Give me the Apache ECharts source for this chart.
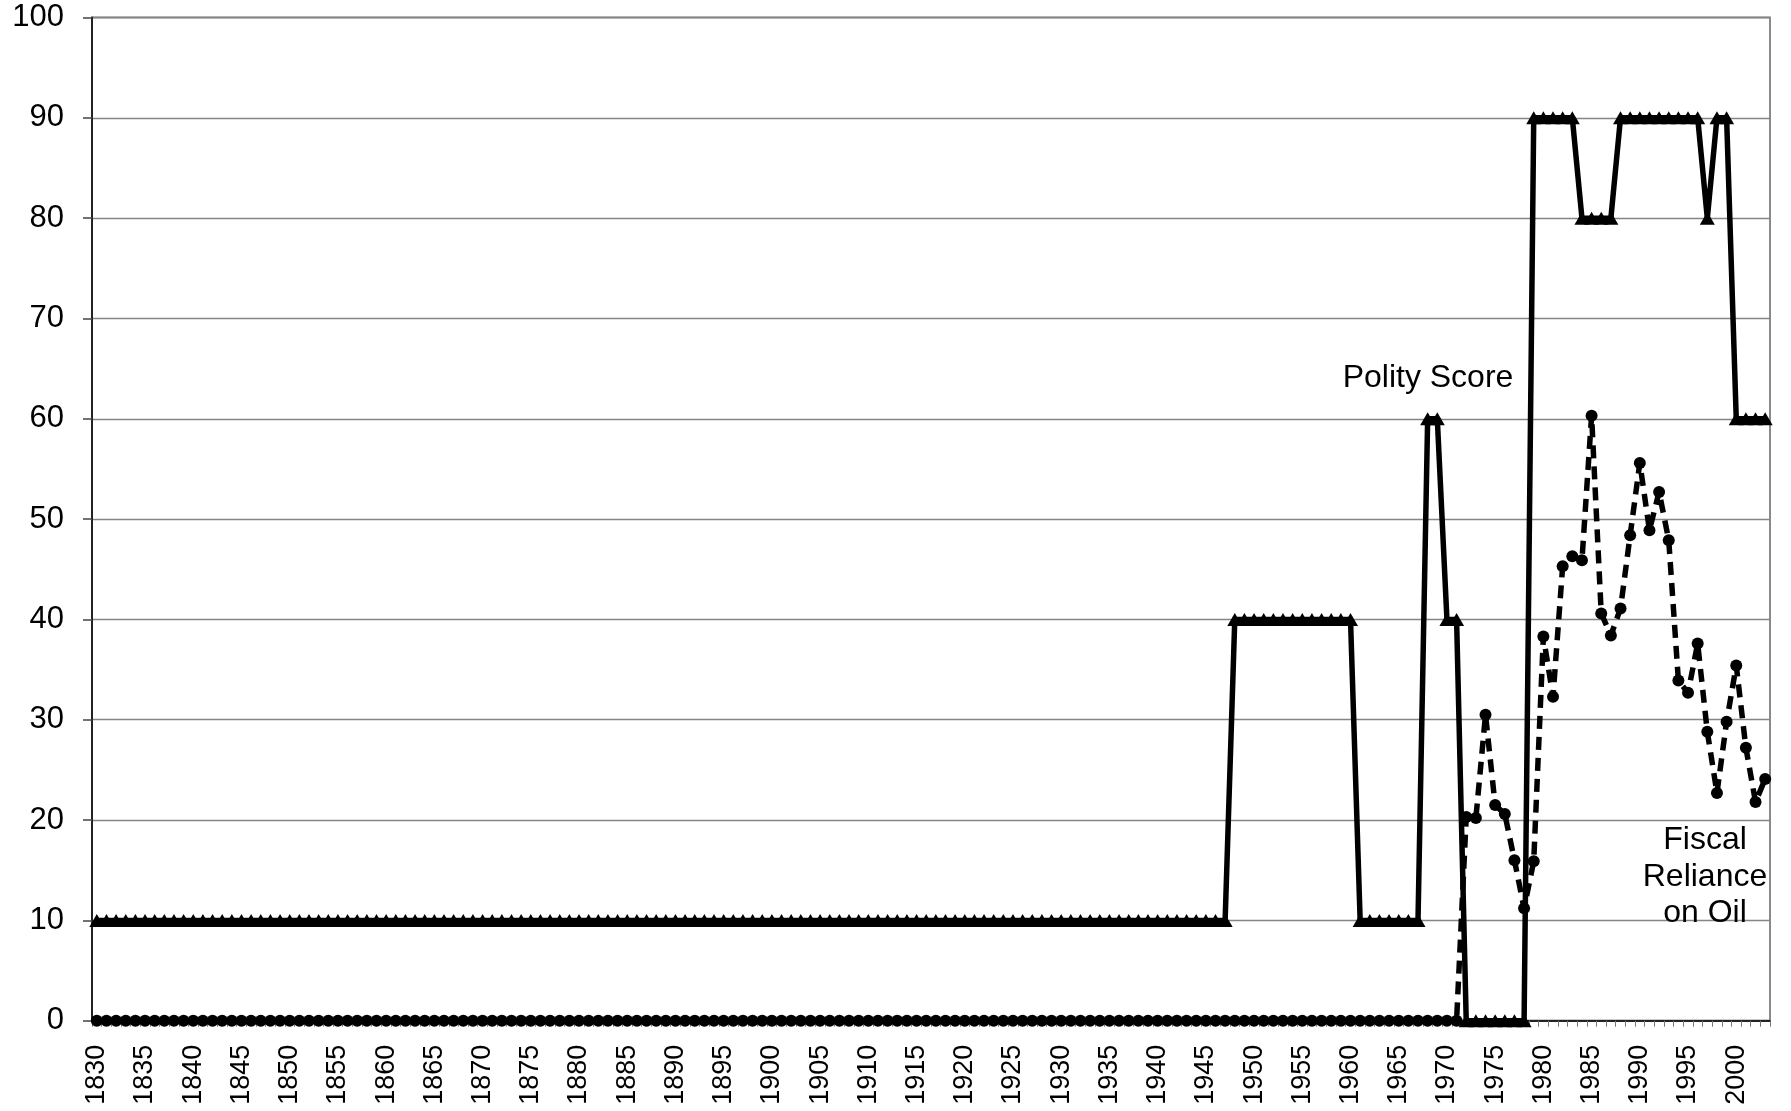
<!DOCTYPE html>
<html>
<head>
<meta charset="utf-8">
<script src="https://cdn.jsdelivr.net/npm/echarts@6/dist/echarts.min.js"></script>
<style>html,body{margin:0;padding:0;background:#fff}#c{width:1791px;height:1111px}</style>
</head>
<body>
<div id="c"></div>
<script>
// Years 1830..2003
var years = [];
for (var y = 1830; y <= 2003; y++) years.push(String(y));

// Polity Score, read as runs from the picture
var polityRuns = [
  [1830, 1947, 10],
  [1948, 1960, 40],
  [1961, 1967, 10],
  [1968, 1969, 60],
  [1970, 1971, 40],
  [1972, 1978, 0],
  [1979, 1983, 90],
  [1984, 1987, 80],
  [1988, 1996, 90],
  [1997, 1997, 80],
  [1998, 1999, 90],
  [2000, 2003, 60]
];

// Fiscal Reliance on Oil: 0 up to 1971, then these yearly values from 1972
var fiscalStartYear = 1972;
var fiscalValues = [20.3, 20.2, 30.5, 21.5, 20.6, 16.0, 11.2, 15.9, 38.3, 32.3,
  45.3, 46.3, 45.9, 60.3, 40.6, 38.4, 41.1, 48.4, 55.6, 48.9,
  52.7, 47.9, 33.9, 32.7, 37.6, 28.8, 22.7, 29.8, 35.4, 27.2,
  21.8, 24.1];

var yTicks = [0, 10, 20, 30, 40, 50, 60, 70, 80, 90, 100];

var polity = years.map(function (yr) {
  var v = +yr;
  for (var i = 0; i < polityRuns.length; i++) {
    if (v >= polityRuns[i][0] && v <= polityRuns[i][1]) return polityRuns[i][2];
  }
  return null;
});
var fiscal = years.map(function (yr) {
  var v = +yr;
  if (v < fiscalStartYear) return 0;
  return fiscalValues[v - fiscalStartYear];
});

var FONT = 'Arial, "Liberation Sans", sans-serif';
var chart = echarts.init(document.getElementById('c'));
chart.setOption({
  animation: false,
  backgroundColor: '#fff',
  grid: { left: 92, right: 21, top: 17.5, bottom: 90.3, show: true, borderColor: '#8a8a8a', borderWidth: 2, backgroundColor: 'transparent' },
  xAxis: {
    type: 'category',
    data: years,
    boundaryGap: true,
    axisLine: { lineStyle: { color: '#222', width: 2 } },
    axisTick: { show: true, interval: 0, length: 6, lineStyle: { color: '#777', width: 1 } },
    axisLabel: { interval: 4, rotate: 90, margin: 24, fontSize: 27, color: '#000', fontFamily: FONT },
    splitLine: { show: false }
  },
  yAxis: {
    type: 'value',
    min: yTicks[0],
    max: yTicks[yTicks.length - 1],
    interval: 10,
    axisLine: { show: true, lineStyle: { color: '#222', width: 2 } },
    axisTick: { show: true, length: 9, lineStyle: { color: '#444', width: 1.5 } },
    axisLabel: { margin: 28, fontSize: 31, color: '#000', fontFamily: FONT },
    splitLine: { show: true, lineStyle: { color: '#858585', width: 1.3 } }
  },
  series: [
    {
      name: 'Fiscal Reliance on Oil',
      type: 'line',
      data: fiscal,
      showAllSymbol: true,
      symbol: 'circle',
      symbolSize: 12,
      itemStyle: { color: '#000' },
      lineStyle: { color: '#000', width: 5.5, type: [13, 8] },
      z: 2
    },
    {
      name: 'Polity Score',
      type: 'line',
      data: polity,
      showAllSymbol: true,
      symbol: 'triangle',
      symbolSize: [15, 13],
      itemStyle: { color: '#000' },
      lineStyle: { color: '#000', width: 5.5 },
      z: 3
    }
  ],
  graphic: [
    { type: 'text', x: 1428, y: 362, style: { text: 'Polity Score', fontSize: 32, fontFamily: FONT, fill: '#000', align: 'center' }, z: 10 },
    { type: 'text', x: 1705, y: 822, style: { text: 'Fiscal\nReliance\non Oil', fontSize: 32, lineHeight: 36.5, fontFamily: FONT, fill: '#000', align: 'center' }, z: 10 }
  ]
});
</script>
</body>
</html>
